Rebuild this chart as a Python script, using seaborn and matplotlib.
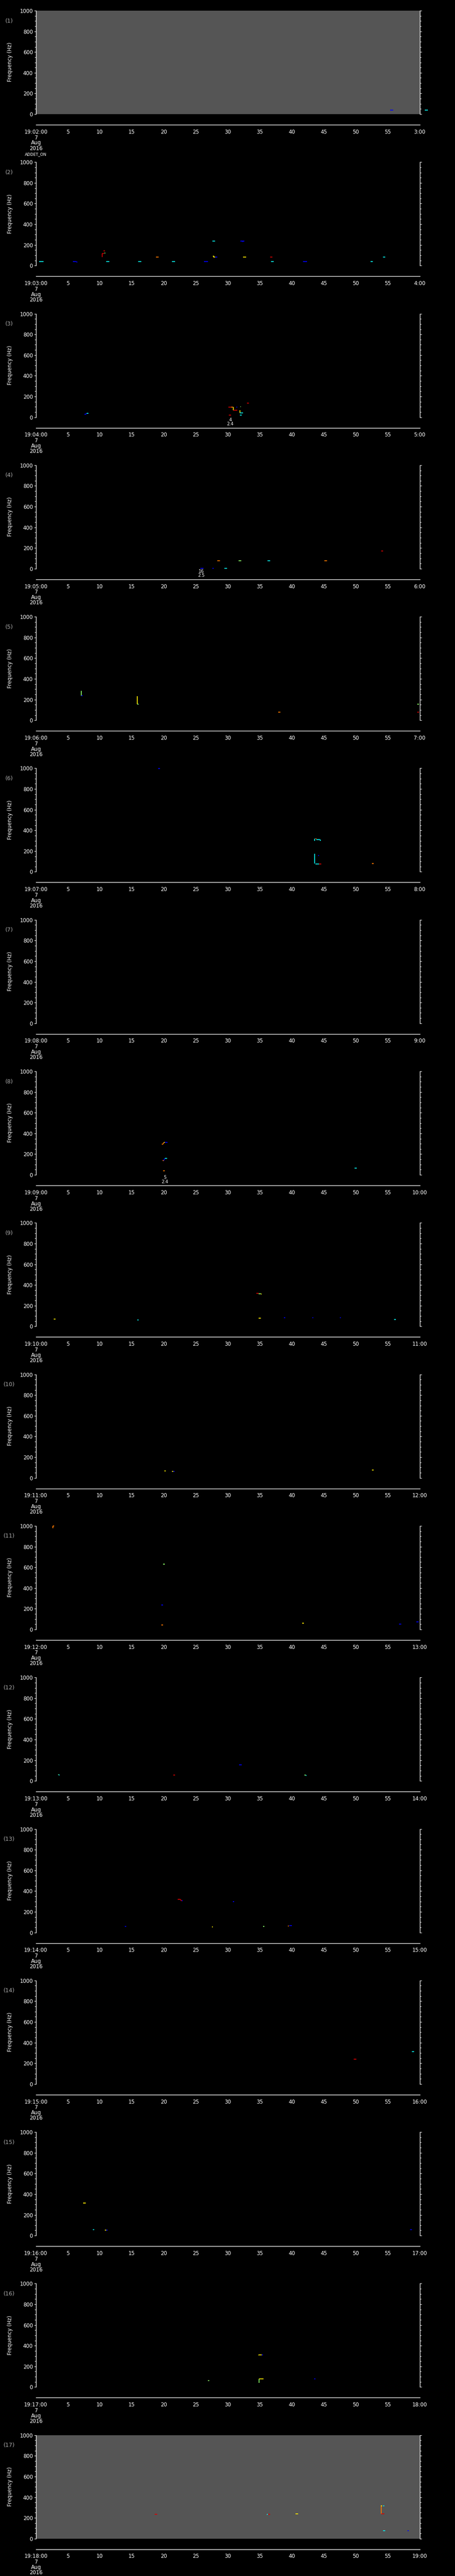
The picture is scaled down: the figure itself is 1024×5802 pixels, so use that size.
import matplotlib
matplotlib.use("Agg")
import matplotlib.pyplot as plt
from matplotlib.ticker import MultipleLocator, FixedLocator
import seaborn as sns

sns.set_theme(style="dark")
plt.rcParams['font.family'] = ['DejaVu Sans']

# ---------------- data ----------------
# panel start minutes (19:MM:00) and segment lists
START_MIN = list(range(2, 19))            # 17 panels, 19:02 ... 19:18
GRAY_PANELS = [1, 17]
TIME_TICKS = list(range(0, 61, 5))
FREQ_TICKS = [0, 200, 400, 600, 800, 1000]
DATE_LINES = ["7", "Aug", "2016"]
INSTRUMENT = "ADDET_ON"

# segments: (t0 [s], t1 [s], f0 [Hz], f1 [Hz], intensity code)
SEG1 = [(55.4, 55.9, 37, 37, 'B'), (60.8, 61.3, 37, 37, 'C')]
SEG2 = [(0.5, 1.2, 39, 39, 'C'), (5.8, 6.3, 39, 39, 'B'), (6.3, 6.5, 39, 33, 'B'),
        (10.4, 10.4, 81, 119, 'R'), (10.4, 10.65, 119, 119, 'R'), (10.7, 10.9, 122, 122, 'G'),
        (10.6, 10.8, 142, 142, 'R'), (11.0, 11.5, 39, 39, 'C'), (16.0, 16.5, 39, 39, 'C'),
        (18.8, 19.2, 81, 81, 'O'), (21.3, 21.8, 39, 39, 'C'), (26.3, 26.9, 39, 39, 'B'),
        (27.6, 28.0, 236, 236, 'C'), (27.7, 27.85, 90, 90, 'Y'), (27.75, 28.0, 81, 81, 'Y'),
        (28.0, 28.4, 81, 81, 'B'), (32.0, 32.6, 236, 236, 'B'), (32.3, 32.4, 236, 230, 'B'),
        (32.4, 32.9, 81, 81, 'Y'), (36.6, 37.0, 81, 81, 'R'), (36.8, 37.2, 39, 39, 'C'),
        (41.8, 42.4, 39, 39, 'B'), (52.3, 52.7, 39, 39, 'C'), (54.3, 54.6, 81, 81, 'C')]
SEG3 = [(7.6, 7.8, 27, 27, 'B'), (7.8, 7.95, 27, 37, 'B'), (7.95, 8.2, 37, 37, 'C'),
        (30.1, 30.5, 96, 96, 'R'), (30.5, 30.9, 96, 96, 'O'), (30.9, 30.9, 96, 66, 'Y'),
        (30.9, 31.5, 66, 66, 'R'), (31.35, 31.5, 96, 96, 'B'), (31.95, 32.05, 101, 101, 'G'),
        (31.9, 31.9, 66, 41, 'Y'), (31.9, 32.4, 41, 41, 'C'), (33.0, 33.3, 134, 134, 'R'),
        (30.2, 30.5, 19, 19, 'R'), (31.9, 32.2, 19, 19, 'C')]
SEG4 = [(54.0, 54.3, 170, 170, 'R'), (28.4, 28.8, 76, 76, 'O'), (31.7, 32.1, 76, 76, 'G'),
        (36.2, 36.6, 76, 76, 'C'), (45.1, 45.5, 76, 76, 'O'), (25.7, 26.2, 2, 2, 'B'),
        (27.6, 27.8, 2, 2, 'B'), (29.5, 29.9, 2, 2, 'C')]
SEG5 = [(7.1, 7.1, 235, 283, 'G'), (7.1, 7.3, 235, 235, 'B'), (15.9, 15.9, 157, 231, 'Y'),
        (15.9, 16.05, 157, 157, 'G'), (37.9, 38.2, 78, 78, 'O'), (59.6, 59.9, 155, 155, 'G'),
        (59.6, 59.9, 78, 78, 'R')]
SEG6 = [(19.1, 19.4, 999, 999, 'B'), (43.6, 43.6, 297, 318, 'C'), (43.7, 43.85, 318, 318, 'O'),
        (43.85, 44.4, 313, 313, 'C'), (44.45, 44.45, 313, 297, 'C'), (43.6, 43.6, 79, 173, 'C'),
        (44.1, 44.3, 155, 155, 'B'), (43.7, 44.3, 76, 76, 'C'), (44.3, 44.6, 76, 76, 'R'),
        (52.5, 52.8, 78, 78, 'O')]
SEG7 = []
SEG8 = [(19.7, 19.9, 297, 297, 'O'), (19.9, 20.0, 297, 313, 'O'), (20.0, 20.2, 313, 313, 'Y'),
        (20.2, 20.6, 313, 313, 'B'), (19.8, 20.0, 137, 137, 'O'), (20.0, 20.15, 137, 158, 'B'),
        (20.15, 20.5, 158, 158, 'C'), (19.9, 20.15, 37, 37, 'O'), (49.8, 50.2, 66, 66, 'C')]
SEG9 = [(2.8, 3.1, 71, 71, 'Y'), (15.9, 16.1, 63, 63, 'C'), (34.5, 34.8, 317, 317, 'R'),
        (34.8, 35.2, 315, 315, 'G'), (35.2, 35.3, 315, 310, 'Y'), (34.8, 35.2, 79, 79, 'Y'),
        (38.8, 39.0, 82, 82, 'B'), (43.2, 43.4, 82, 82, 'B'), (47.5, 47.7, 82, 82, 'B'),
        (56.0, 56.3, 65, 65, 'C')]
SEG10 = [(20.1, 20.3, 66, 66, 'Y'), (21.3, 21.5, 65, 65, 'Y'), (21.5, 21.7, 65, 65, 'B'),
         (52.5, 52.8, 74, 74, 'Y')]
SEG11 = [(2.7, 2.7, 979, 998, 'O'), (2.7, 2.85, 998, 998, 'O'), (19.9, 20.2, 632, 632, 'G'),
         (19.6, 19.9, 234, 234, 'B'), (19.6, 19.9, 44, 44, 'O'), (41.6, 41.9, 61, 61, 'Y'),
         (56.8, 57.1, 50, 50, 'B'), (59.5, 59.8, 74, 74, 'B')]
SEG12 = [(3.5, 3.6, 62, 62, 'G'), (3.6, 3.7, 62, 54, 'C'), (21.5, 21.8, 56, 56, 'R'),
         (31.8, 32.2, 155, 155, 'B'), (42.0, 42.2, 56, 56, 'G'), (42.2, 42.3, 56, 50, 'C')]
SEG13 = [(22.2, 22.6, 318, 318, 'R'), (22.6, 22.8, 318, 305, 'R'), (22.8, 22.95, 305, 305, 'B'),
         (30.8, 31.0, 298, 298, 'B'), (13.9, 14.1, 59, 59, 'B'), (27.5, 27.7, 53, 53, 'Y'),
         (35.5, 35.7, 59, 59, 'G'), (39.5, 39.5, 59, 66, 'O'), (39.6, 40.0, 66, 66, 'B')]
SEG14 = [(49.7, 50.1, 238, 238, 'R'), (58.8, 59.1, 314, 314, 'C')]
SEG15 = [(7.4, 7.8, 313, 313, 'Y'), (8.9, 9.1, 57, 57, 'C'), (10.8, 11.0, 52, 52, 'Y'),
         (11.0, 11.2, 52, 52, 'B'), (58.5, 58.8, 55, 55, 'B')]
SEG16 = [(34.8, 34.8, 305, 312, 'Y'), (34.8, 35.3, 312, 312, 'Y'), (35.3, 35.5, 312, 312, 'B'),
         (26.9, 27.1, 60, 60, 'G'), (34.9, 34.9, 41, 78, 'G'), (34.9, 35.6, 78, 78, 'Y'),
         (43.5, 43.7, 78, 78, 'B')]
SEG17 = [(18.6, 19.0, 235, 235, 'R'), (36.1, 36.3, 232, 235, 'C'), (36.3, 36.6, 235, 235, 'R'),
         (40.6, 41.0, 239, 239, 'Y'), (54.0, 54.0, 239, 316, 'O'), (53.9, 54.1, 316, 316, 'Y'),
         (54.3, 54.5, 316, 316, 'C'), (54.0, 54.5, 239, 239, 'R'), (54.3, 54.6, 76, 76, 'C'),
         (58.1, 58.3, 76, 76, 'B')]
SEGMENTS = [SEG1, SEG2, SEG3, SEG4, SEG5, SEG6, SEG7, SEG8, SEG9, SEG10,
            SEG11, SEG12, SEG13, SEG14, SEG15, SEG16, SEG17]

# small annotations under some panels: panel -> (time, line1, line2)
NOTE_PANEL = [3, 4, 8]
NOTE_TIME = [30.4, 25.9, 20.2]
NOTE_TOP = ["4", "16", "5"]
NOTE_BOT = ["2.4", "2.5", "2.4"]

LEVEL = {'B': 0.12, 'C': 0.36, 'G': 0.52, 'Y': 0.66, 'O': 0.78, 'R': 0.92}

# ---------------- layout ----------------
W, H = 1024, 5802
PITCH = H / 17.0
L, R = 80.5, 944.5
cmap = plt.get_cmap('jet')
GRAY = '#555555'
FS = 8.5

fig = plt.figure(figsize=(W / 100, H / 100), dpi=100, facecolor='black')


def fy(px):
    return 1 - px / H


for k in range(17):
    top = k * PITCH
    ax = fig.add_axes([L / W, fy(top + 257), (R - L) / W, 233 / H])
    ax.set_facecolor(GRAY if (k + 1) in GRAY_PANELS else 'black')
    ax.set_xlim(0, 60)
    ax.set_ylim(0, 1000)
    ax.grid(False)
    sns.despine(ax=ax, top=True, bottom=True, left=False, right=False)
    for s in ('left', 'right'):
        ax.spines[s].set_color('white')
        ax.spines[s].set_linewidth(1.0)
    ax.set_xticks([])
    ax.yaxis.set_major_locator(FixedLocator(FREQ_TICKS))
    ax.yaxis.set_minor_locator(MultipleLocator(50))
    ax.set_yticklabels([str(v) for v in FREQ_TICKS])
    ax.tick_params(axis='y', which='both', direction='out', left=True, right=True,
                   labelleft=True, labelright=False, colors='white', labelsize=FS)
    ax.tick_params(axis='y', which='major', length=3.2, width=0.8, pad=1.5)
    ax.tick_params(axis='y', which='minor', length=2.0, width=0.8)

    for (t0, t1, f0, f1, c) in SEGMENTS[k]:
        ax.plot([t0, t1], [f0, f1], color=cmap(LEVEL[c]), lw=1.3,
                solid_capstyle='butt', clip_on=False)

    if (k + 1) in NOTE_PANEL:
        i = NOTE_PANEL.index(k + 1)
        tr = ax.get_xaxis_transform()
        ax.text(NOTE_TIME[i], -6 / 233, NOTE_TOP[i], transform=tr, color='white',
                fontsize=7, ha='center', va='center', clip_on=False)
        ax.text(NOTE_TIME[i], -15.5 / 233, NOTE_BOT[i], transform=tr, color='white',
                fontsize=7, ha='center', va='center', clip_on=False)

    # time axis (separate line below the panel)
    tax = fig.add_axes([L / W, fy(top + 281), (R - L) / W, 0.5 / H])
    tax.set_facecolor('none')
    tax.set_xlim(0, 60)
    tax.set_yticks([])
    tax.grid(False)
    for s in ('left', 'right', 'top'):
        tax.spines[s].set_visible(False)
    tax.spines['bottom'].set_color('white')
    tax.spines['bottom'].set_linewidth(1.0)
    m = START_MIN[k]
    labels = ["19:%02d:00" % m] + [str(t) for t in TIME_TICKS[1:-1]] + ["%d:00" % (m + 1)]
    tax.set_xticks(TIME_TICKS)
    tax.set_xticklabels(labels)
    tax.tick_params(axis='x', direction='out', length=3, width=0.8, colors='white',
                    labelsize=FS, pad=4)

    for j, txt in enumerate(DATE_LINES):
        fig.text(81.5 / W, fy(top + 310 + 12 * j), txt, color='white', fontsize=FS,
                 ha='center', va='center')

    fig.text(21 / W, fy(top + 47), "(%d)" % (k + 1), color='#aaaaaa', fontsize=9,
             ha='center', va='center')
    fig.text(22.7 / W, fy(top + 140), "Frequency (Hz)", color='white', fontsize=8.5,
             rotation=90, ha='center', va='center')

fig.text(80 / W, fy(347.5), INSTRUMENT, color='white', fontsize=6.5, ha='center', va='center')

fig.savefig('out.png', dpi=100, facecolor='black')
